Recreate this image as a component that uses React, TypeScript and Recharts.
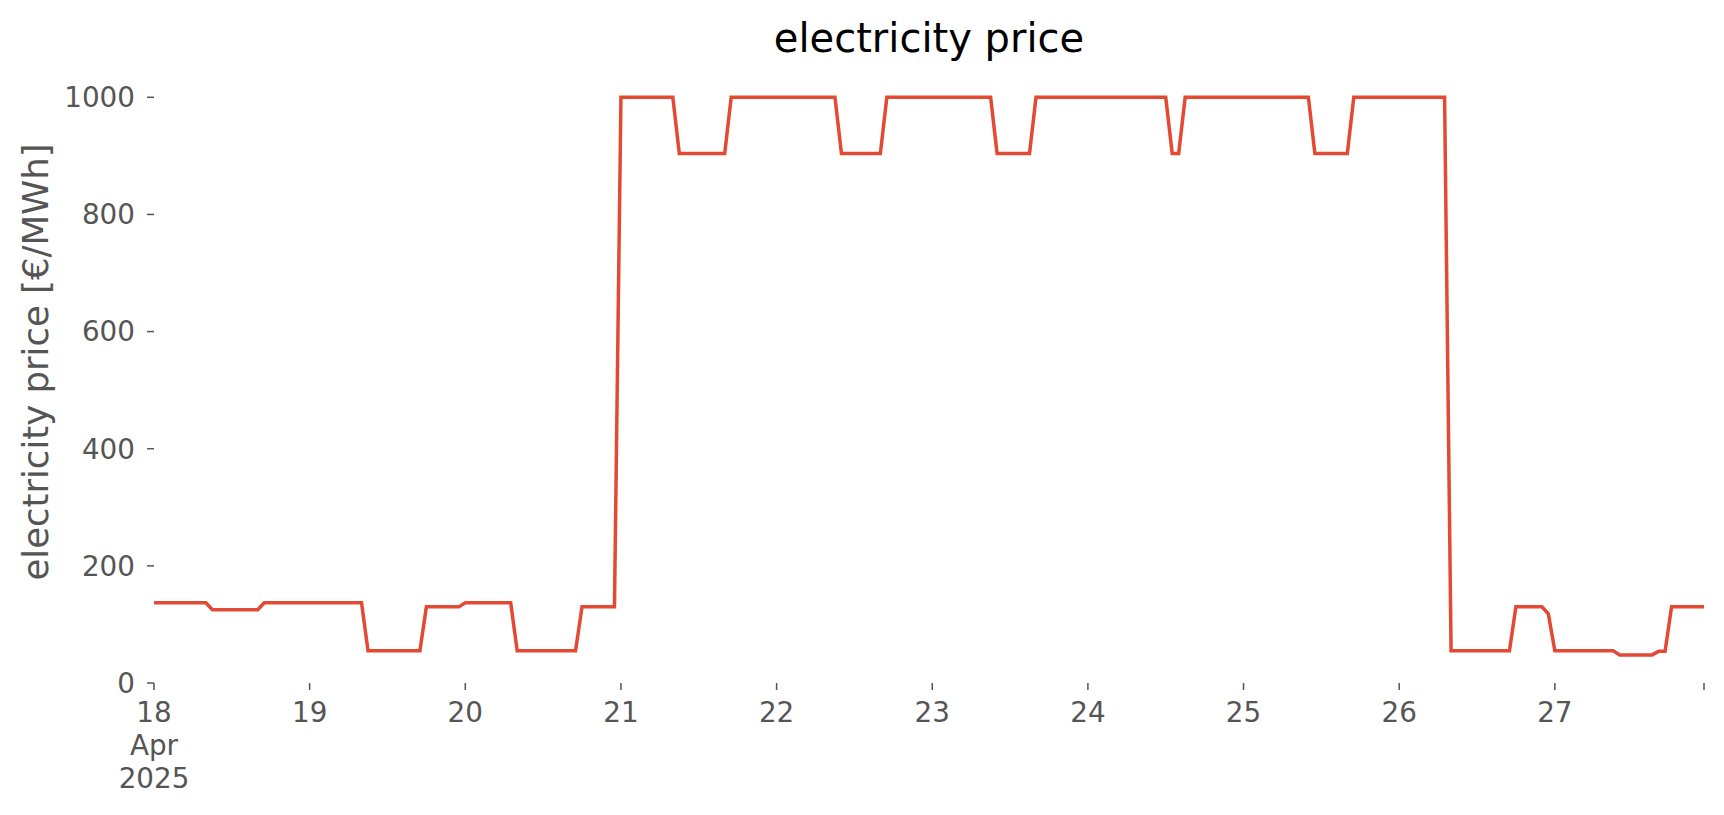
import { LineChart, Line, XAxis, YAxis } from "recharts";

// hourly price, one array per day (Apr 18 .. Apr 27)
const apr18 = [137, 137, 137, 137, 137, 137, 137, 137, 137, 125, 125, 125, 125, 125, 125, 125, 125, 137, 137, 137, 137, 137, 137, 137];
const apr19 = [137, 137, 137, 137, 137, 137, 137, 137, 137, 55, 55, 55, 55, 55, 55, 55, 55, 55, 130, 130, 130, 130, 130, 130];
const apr20 = [137, 137, 137, 137, 137, 137, 137, 137, 55, 55, 55, 55, 55, 55, 55, 55, 55, 55, 130, 130, 130, 130, 130, 130];
const apr21 = [1000, 1000, 1000, 1000, 1000, 1000, 1000, 1000, 1000, 904, 904, 904, 904, 904, 904, 904, 904, 1000, 1000, 1000, 1000, 1000, 1000, 1000];
const apr22 = [1000, 1000, 1000, 1000, 1000, 1000, 1000, 1000, 1000, 1000, 904, 904, 904, 904, 904, 904, 904, 1000, 1000, 1000, 1000, 1000, 1000, 1000];
const apr23 = [1000, 1000, 1000, 1000, 1000, 1000, 1000, 1000, 1000, 1000, 904, 904, 904, 904, 904, 904, 1000, 1000, 1000, 1000, 1000, 1000, 1000, 1000];
const apr24 = [1000, 1000, 1000, 1000, 1000, 1000, 1000, 1000, 1000, 1000, 1000, 1000, 1000, 904, 904, 1000, 1000, 1000, 1000, 1000, 1000, 1000, 1000, 1000];
const apr25 = [1000, 1000, 1000, 1000, 1000, 1000, 1000, 1000, 1000, 1000, 1000, 904, 904, 904, 904, 904, 904, 1000, 1000, 1000, 1000, 1000, 1000, 1000];
const apr26 = [1000, 1000, 1000, 1000, 1000, 1000, 1000, 1000, 55, 55, 55, 55, 55, 55, 55, 55, 55, 55, 130, 130, 130, 130, 130, 118];
const apr27 = [55, 55, 55, 55, 55, 55, 55, 55, 55, 55, 48, 48, 48, 48, 48, 48, 54, 54, 130, 130, 130, 130, 130, 130];

const days = [apr18, apr19, apr20, apr21, apr22, apr23, apr24, apr25, apr26, apr27];
const dayLabels = ["18", "19", "20", "21", "22", "23", "24", "25", "26", "27"];
const yTicks = [0, 200, 400, 600, 800, 1000];

const data = days.flat().map((price, hour) => ({ hour, price }));
const xTicks = [...dayLabels.map((_, i) => i * 24), data.length - 1];

const FONT = "DejaVu Sans, sans-serif";
const GREY = "#555555";

function XTick(props: any) {
  const { x, y, payload } = props;
  const idx = payload.value / 24;
  if (!Number.isInteger(idx)) return null;
  const lines = idx === 0 ? [dayLabels[0], "Apr", "2025"] : [dayLabels[idx]];
  return (
    <text x={x} y={y} textAnchor="middle" fill={GREY} fontSize={27.8} fontFamily={FONT}>
      {lines.map((l, i) => (
        <tspan key={i} x={x} dy={i === 0 ? "0.71em" : "1.2em"}>{l}</tspan>
      ))}
    </text>
  );
}

export default function App() {
  return (
    <div style={{ position: "absolute", left: 0, top: 0, width: 1724, height: 815, background: "#fff" }}>
      <LineChart width={1724} height={815} data={data} margin={{ top: 68, right: 20, bottom: 32, left: 2 }}>
        <XAxis
          dataKey="hour" type="number" domain={[0, data.length - 1]} ticks={xTicks}
          axisLine={false} tickLine={{ stroke: GREY, strokeWidth: 1.5 }} tickSize={7} tickMargin={12}
          height={100} tick={<XTick />} interval={0}
        />
        <YAxis
          type="number" domain={[0, 1050]} ticks={yTicks} width={152}
          axisLine={false} tickLine={{ stroke: GREY, strokeWidth: 1.5 }} tickSize={7} tickMargin={12}
          tick={{ fill: GREY, fontSize: 27.8, fontFamily: FONT }}
        />
        <Line type="linear" dataKey="price" stroke="#E24A33" strokeWidth={3.5} dot={false} isAnimationActive={false} />
      </LineChart>
      <svg width={1724} height={815} style={{ position: "absolute", left: 0, top: 0, pointerEvents: "none" }}>
        <text x={929} y={52} textAnchor="middle" fontSize={40} fontFamily={FONT} fill="#000">electricity price</text>
        <text x={35} y={362} transform="rotate(-90 35 362)" textAnchor="middle" dominantBaseline="central" fontSize={35.5} fontFamily={FONT} fill={GREY}>
          electricity price [€/MWh]
        </text>
      </svg>
    </div>
  );
}
